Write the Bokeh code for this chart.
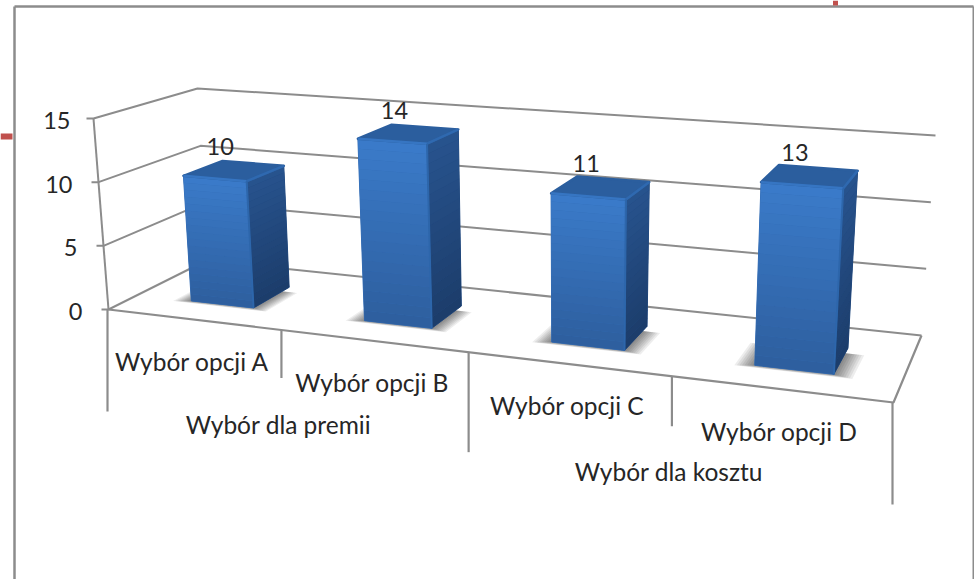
import numpy as np
from bokeh.plotting import figure
from bokeh.models import Range1d
from bokeh.core.properties import value
from bokeh.embed import file_html
from bokeh.resources import INLINE

categories = ["Wybór opcji A", "Wybór opcji B", "Wybór opcji C", "Wybór opcji D"]
groups = ["Wybór dla premii", "Wybór dla kosztu"]
values = [10, 14, 11, 13]
y_ticks = [0, 5, 10, 15]

FONT = value("Lato")
GRAY = "#8c8c8c"
TXT = "#262626"
VMAX = 15.0

def homography(quad):
    src = [(0, 0), (1, 0), (1, 1), (0, 1)]
    A, b = [], []
    for (u, d), (x, y) in zip(src, quad):
        A.append([u, d, 1, 0, 0, 0, -u * x, -d * x]); b.append(x)
        A.append([0, 0, 0, u, d, 1, -u * y, -d * y]); b.append(y)
    s = np.linalg.solve(np.array(A, float), np.array(b, float))
    return np.append(s, 1).reshape(3, 3)

H0 = homography([(108, 309), (893, 402), (921, 335), (206, 260)])
H1 = homography([(93, 118), (907, 177), (935, 135), (197, 88)])

def proj(u, d, v):
    def ap(H):
        q = H @ np.array([u, d, 1.0])
        return q[:2] / q[2]
    t = v / VMAX
    return (1 - t) * ap(H0) + t * ap(H1)

def quad(a, b, c, e):
    pts = [a, b, c, e]
    return [p[0] for p in pts], [p[1] for p in pts]

def lerp_color(c0, c1, t):
    a = np.array([int(c0[i:i + 2], 16) for i in (1, 3, 5)], float)
    b = np.array([int(c1[i:i + 2], 16) for i in (1, 3, 5)], float)
    r = (1 - t) * a + t * b
    return "#%02x%02x%02x" % tuple(int(round(x)) for x in r)

p = figure(width=974, height=579, output_backend="svg", toolbar_location=None,
           x_range=Range1d(0, 974), y_range=Range1d(579, 0),
           x_axis_type=None, y_axis_type=None, min_border=0,
           outline_line_color=None, background_fill_color="white")
p.grid.visible = False
p.styles = {"position": "absolute", "left": "0px", "top": "0px"}

# frame and the red remnants around it
p.line([14, 14], [6, 579], line_color=GRAY, line_width=2.5)
p.line([14, 973], [6, 6], line_color=GRAY, line_width=2.5)
p.line([973, 973], [6, 579], line_color=GRAY, line_width=2)
p.line([0, 12], [136, 136], line_color="#c0504d", line_width=6)
p.line([835, 835], [0, 5], line_color="#c0504d", line_width=5)

# walls and floor
for v in y_ticks:
    a, b, c = proj(0, 0, v), proj(0, 1, v), proj(1, 1, v)
    p.line([a[0] - 7, a[0], b[0], c[0]], [a[1], a[1], b[1], c[1]],
           line_color=GRAY, line_width=2)
a, b = proj(0, 0, 0), proj(0, 0, VMAX)
p.line([a[0], b[0]], [a[1], b[1]], line_color=GRAY, line_width=2)
fr, br = proj(1, 0, 0), proj(1, 1, 0)
p.line([a[0], fr[0], br[0]], [a[1], fr[1], br[1]], line_color=GRAY, line_width=2.2)

# y labels
for v in y_ticks:
    q = proj(0, 0, v)
    p.text([q[0] - (23 if v == 15 else 26)], [q[1] + 2], text=[str(v)], text_font=FONT,
           text_font_size="23.5px", text_color=TXT, text_align="right", text_baseline="middle")

# category dividers, labels
depth = [102, 48, 100, 50, 102]
for i, dp in enumerate(depth):
    q = proj(i / 4, 0, 0)
    p.line([q[0] - (1 if i in (0, 4) else 0)] * 2, [q[1], q[1] + dp], line_color=GRAY, line_width=2.2)
for i, c in enumerate(categories):
    q = proj((i + .5) / 4, 0, 0)
    p.text([q[0] - 1], [q[1] + 42], text=[c], text_font=FONT, text_font_size="24.5px",
           text_color=TXT, text_align="center", text_baseline="middle")
for i, g in enumerate(groups):
    q = proj((2 * i + 1) / 4, 0, 0)
    p.text([q[0] - 3], [q[1] + 95], text=[g], text_font=FONT, text_font_size="24.5px",
           text_color=TXT, text_align="center", text_baseline="middle")

# bars
HW, D0, D1 = 0.046, 0.28, 0.68
for i, val in enumerate(values):
    uc = (i + .5) / 4 + 0.002
    u0, u1 = uc - HW, uc + HW
    # soft shadow on the floor
    for k in range(8, 0, -1):
        e = k * 0.0028
        xs, ys = quad(proj(u0 - e, D0 - e * 1.5, 0), proj(u1 + e, D0 - e * 1.5, 0),
                      proj(u1 + e, D1 - .08, 0), proj(u0 - e, D1 - .08, 0))
        p.patch(xs, ys, fill_color="#000000", fill_alpha=0.07, line_color=None)
    n = 18
    # side face
    xs, ys = quad(proj(u1, D0, 0), proj(u1, D1, 0), proj(u1, D1, val), proj(u1, D0, val))
    p.patch(xs, ys, fill_color="#224a80", line_color="#224a80", line_width=1)
    for k in range(n):
        t0, t1 = k / n, (k + 1) / n
        xs, ys = quad(proj(u1, D0, val * t0), proj(u1, D1, val * t0),
                      proj(u1, D1, val * t1), proj(u1, D0, val * t1))
        p.patch(xs, ys, fill_color=lerp_color("#1c3d6b", "#28548f", t0), line_color=None)
    # front face
    xs, ys = quad(proj(u0, D0, 0), proj(u1, D0, 0), proj(u1, D0, val), proj(u0, D0, val))
    p.patch(xs, ys, fill_color="#346db5", line_color="#346db5", line_width=1)
    for k in range(n):
        t0, t1 = k / n, (k + 1) / n
        xs, ys = quad(proj(u0, D0, val * t0), proj(u1, D0, val * t0),
                      proj(u1, D0, val * t1), proj(u0, D0, val * t1))
        p.patch(xs, ys, fill_color=lerp_color("#2e5f9f", "#3b7ccb", t0), line_color=None)
    # top face
    xs, ys = quad(proj(u0, D0, val), proj(u1, D0, val), proj(u1, D1, val), proj(u0, D1, val))
    p.patch(xs, ys, fill_color="#2b5e9e", line_color="#2b5e9e", line_width=2.5, line_join="round")
    # bevel highlights
    a, b, c = proj(u0, D0, val), proj(u1, D0, val), proj(u1, D1, val)
    p.line([a[0], b[0]], [a[1], b[1]], line_color="#3675c2", line_width=2.5)
    p.line([b[0], c[0]], [b[1], c[1]], line_color="#2f69b0", line_width=2.5)
    f = proj(u1, D0, 0)
    p.line([b[0], f[0]], [b[1], f[1]], line_color="#2d66ab", line_width=2)
    # value label
    top = proj(uc, 0.5, val)
    p.text([top[0] - 16], [top[1] - 23], text=[str(val)], text_font=FONT, text_font_size="23.5px",
           text_color=TXT, text_align="center", text_baseline="middle")

open("out.html", "w").write(file_html(p, INLINE))
